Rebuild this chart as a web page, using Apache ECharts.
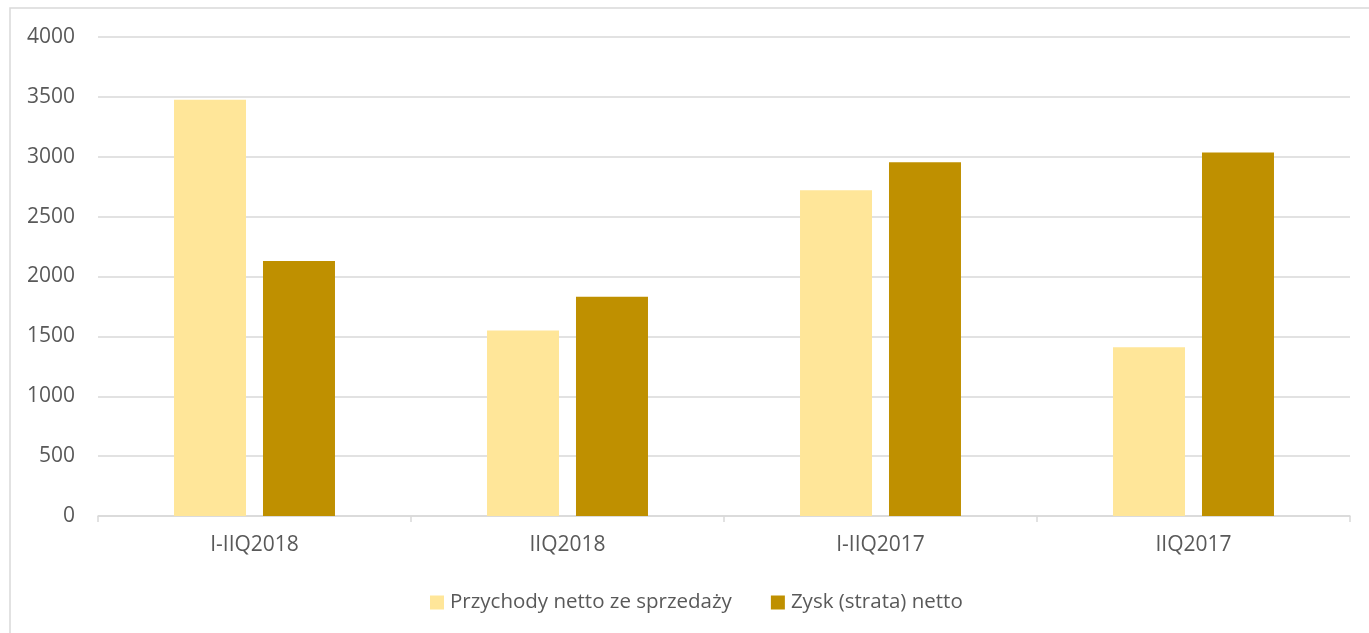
<!DOCTYPE html>
<html>
<head>
<meta charset="utf-8">
<script src="https://cdn.jsdelivr.net/npm/echarts@6/dist/echarts.min.js"></script>
<style>
html,body{margin:0;padding:0;background:#fff;}
#c{width:1369px;height:633px;}
</style>
</head>
<body>
<div id="c"></div>
<script>
var categories = ['I-IIQ2018', 'IIQ2018', 'I-IIQ2017', 'IIQ2017'];
var seriesNames = ['Przychody netto ze sprzedaży', 'Zysk (strata) netto'];
var revenue = [3475, 1550, 2720, 1410];
var profit = [2130, 1830, 2955, 3035];
var yTicks = [0, 500, 1000, 1500, 2000, 2500, 3000, 3500, 4000];

var FONT = '"Open Sans", sans-serif';
var chart = echarts.init(document.getElementById('c'), null, {renderer: 'canvas'});
chart.setOption({
  animation: false,
  backgroundColor: '#ffffff',
  textStyle: {fontFamily: FONT},
  graphic: [{
    type: 'rect',
    shape: {x: 10, y: 8, width: 1400, height: 700},
    style: {fill: 'none', stroke: '#d9d9d9', lineWidth: 1.5},
    silent: true,
    z: -1
  }],
  grid: {left: 98, right: 19, top: 37, bottom: 117, containLabel: false},
  legend: {
    data: seriesNames,
    top: 587,
    left: 425,
    icon: 'rect',
    itemWidth: 14,
    itemHeight: 14,
    itemGap: 39,
    textStyle: {fontFamily: FONT, fontSize: 20.5, color: '#595959', padding: [0, 0, 0, 1]}
  },
  xAxis: {
    type: 'category',
    data: categories,
    axisLine: {lineStyle: {color: '#d9d9d9', width: 1.5}},
    axisTick: {show: true, length: 6, lineStyle: {color: '#d9d9d9', width: 1.5}},
    axisLabel: {fontFamily: FONT, fontSize: 21, color: '#595959', margin: 19}
  },
  yAxis: {
    type: 'value',
    min: yTicks[0],
    max: yTicks[yTicks.length - 1],
    interval: 500,
    axisLine: {show: false},
    axisTick: {show: false},
    axisLabel: {fontFamily: FONT, fontSize: 21, color: '#595959', margin: 23,
      formatter: function (v) { return String(v); }},
    splitLine: {lineStyle: {color: '#d9d9d9', width: 1.5}}
  },
  series: [{
    name: seriesNames[0],
    type: 'bar',
    data: revenue,
    barWidth: '23%',
    barGap: '23.6%',
    itemStyle: {color: '#FFE699'}
  }, {
    name: seriesNames[1],
    type: 'bar',
    data: profit,
    barWidth: '23%',
    itemStyle: {color: '#BF9000'}
  }]
});
</script>
</body>
</html>
